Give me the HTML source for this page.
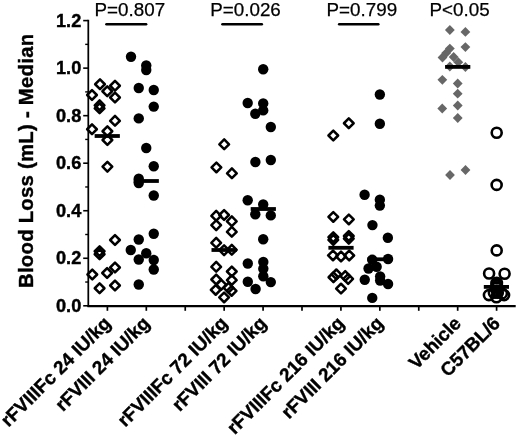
<!DOCTYPE html>
<html><head><meta charset="utf-8"><title>Blood Loss</title>
<style>html,body{margin:0;padding:0;background:#fff}svg{display:block;filter:grayscale(1)}text{font-family:"Liberation Sans",sans-serif;fill:#000}.b{font-weight:bold;stroke:#000;stroke-width:.4px}.r{stroke:#000;stroke-width:.25px}</style></head><body>
<svg width="520" height="436" viewBox="0 0 520 436">
<g opacity="0.999">
<rect width="520" height="436" fill="#fff"/>
<g stroke="#000" fill="none">
<path d="M88.3 19.8 V306.8" stroke-width="1.75"/>
<path d="M87.4 306.15 H515.7" stroke-width="2.1"/>
<path d="M83.2 305.80 H88" stroke-width="1.6"/>
<path d="M85.2 282.03 H88" stroke-width="1.4"/>
<path d="M83.2 258.27 H88" stroke-width="1.6"/>
<path d="M85.2 234.50 H88" stroke-width="1.4"/>
<path d="M83.2 210.73 H88" stroke-width="1.6"/>
<path d="M85.2 186.97 H88" stroke-width="1.4"/>
<path d="M83.2 163.20 H88" stroke-width="1.6"/>
<path d="M85.2 139.43 H88" stroke-width="1.4"/>
<path d="M83.2 115.67 H88" stroke-width="1.6"/>
<path d="M85.2 91.90 H88" stroke-width="1.4"/>
<path d="M83.2 68.13 H88" stroke-width="1.6"/>
<path d="M85.2 44.37 H88" stroke-width="1.4"/>
<path d="M83.2 20.60 H88" stroke-width="1.6"/>
<path d="M107.4 305.8 V310.8" stroke-width="1.7"/>
<path d="M146.32 305.8 V310.8" stroke-width="1.7"/>
<path d="M185.24 305.8 V310.8" stroke-width="1.7"/>
<path d="M224.16 305.8 V310.8" stroke-width="1.7"/>
<path d="M263.08 305.8 V310.8" stroke-width="1.7"/>
<path d="M302.0 305.8 V310.8" stroke-width="1.7"/>
<path d="M340.92 305.8 V310.8" stroke-width="1.7"/>
<path d="M379.84 305.8 V310.8" stroke-width="1.7"/>
<path d="M418.76 305.8 V310.8" stroke-width="1.7"/>
<path d="M457.68 305.8 V310.8" stroke-width="1.7"/>
<path d="M496.6 305.8 V310.8" stroke-width="1.7"/>
</g>
<g class="b" font-size="18.2" text-anchor="end">
<text x="81.3" y="311.70">0.0</text>
<text x="81.3" y="264.17">0.2</text>
<text x="81.3" y="216.63">0.4</text>
<text x="81.3" y="169.10">0.6</text>
<text x="81.3" y="121.57">0.8</text>
<text x="81.3" y="74.03">1.0</text>
<text x="81.3" y="26.50">1.2</text>
</g>
<text class="b" font-size="20.3" letter-spacing="0.27" transform="translate(33.4 288) rotate(-90)">Blood Loss (mL) - Median</text>
<g class="b" font-size="18.8" text-anchor="end">
<text transform="translate(111.9 324.5) rotate(-45)">rFVIIIFc 24 IU/kg</text>
<text transform="translate(150.8 324.5) rotate(-45)">rFVIII 24 IU/kg</text>
<text transform="translate(228.7 324.5) rotate(-45)">rFVIIIFc 72 IU/kg</text>
<text transform="translate(267.6 324.5) rotate(-45)">rFVIII 72 IU/kg</text>
<text transform="translate(345.4 324.5) rotate(-45)">rFVIIIFc 216 IU/kg</text>
<text transform="translate(384.3 324.5) rotate(-45)">rFVIII 216 IU/kg</text>
<text transform="translate(462.2 324.5) rotate(-45)">Vehicle</text>
<text transform="translate(501.1 324.5) rotate(-45)">C57BL/6</text>
</g>
<g class="r" font-size="18.8">
<text x="94.6" y="16.4">P=0.807</text>
<text x="210.3" y="16.4">P=0.026</text>
<text x="326.6" y="16.4">P=0.799</text>
<text x="429.6" y="16.4">P&lt;0.05</text>
</g>
<g stroke="#000" stroke-width="2.6" stroke-linecap="round">
<path d="M106.5 24.2 H146.1"/>
<path d="M222.5 24.2 H261.8"/>
<path d="M339.2 24.2 H378.3"/>
</g>
<g fill="none" stroke="#000" stroke-width="2.5" stroke-linejoin="round">
<path d="M100.00 79.40 L104.85 84.25 L100.00 89.10 L95.15 84.25 Z"/>
<path d="M115.00 80.90 L119.85 85.75 L115.00 90.60 L110.15 85.75 Z"/>
<path d="M92.00 90.15 L96.85 95.00 L92.00 99.85 L87.15 95.00 Z"/>
<path d="M107.25 86.40 L112.10 91.25 L107.25 96.10 L102.40 91.25 Z"/>
<path d="M115.00 92.65 L119.85 97.50 L115.00 102.35 L110.15 97.50 Z"/>
<path d="M99.60 100.45 L104.45 105.30 L99.60 110.15 L94.75 105.30 Z"/>
<path d="M99.60 103.45 L104.45 108.30 L99.60 113.15 L94.75 108.30 Z"/>
<path d="M115.00 115.95 L119.85 120.80 L115.00 125.65 L110.15 120.80 Z"/>
<path d="M92.00 124.40 L96.85 129.25 L92.00 134.10 L87.15 129.25 Z"/>
<path d="M107.40 126.40 L112.25 131.25 L107.40 136.10 L102.55 131.25 Z"/>
<path d="M107.40 135.15 L112.25 140.00 L107.40 144.85 L102.55 140.00 Z"/>
<path d="M107.40 161.85 L112.25 166.70 L107.40 171.55 L102.55 166.70 Z"/>
<path d="M115.00 235.15 L119.85 240.00 L115.00 244.85 L110.15 240.00 Z"/>
<path d="M99.60 246.40 L104.45 251.25 L99.60 256.10 L94.75 251.25 Z"/>
<path d="M99.60 249.40 L104.45 254.25 L99.60 259.10 L94.75 254.25 Z"/>
<path d="M115.00 262.65 L119.85 267.50 L115.00 272.35 L110.15 267.50 Z"/>
<path d="M107.10 268.15 L111.95 273.00 L107.10 277.85 L102.25 273.00 Z"/>
<path d="M92.30 269.65 L97.15 274.50 L92.30 279.35 L87.45 274.50 Z"/>
<path d="M115.00 280.65 L119.85 285.50 L115.00 290.35 L110.15 285.50 Z"/>
<path d="M99.60 283.40 L104.45 288.25 L99.60 293.10 L94.75 288.25 Z"/>
</g>
<g fill="none" stroke="#000" stroke-width="2.5" stroke-linejoin="round">
<path d="M224.20 139.45 L229.05 144.30 L224.20 149.15 L219.35 144.30 Z"/>
<path d="M216.40 162.55 L221.25 167.40 L216.40 172.25 L211.55 167.40 Z"/>
<path d="M231.90 168.45 L236.75 173.30 L231.90 178.15 L227.05 173.30 Z"/>
<path d="M216.20 210.95 L221.05 215.80 L216.20 220.65 L211.35 215.80 Z"/>
<path d="M224.10 210.15 L228.95 215.00 L224.10 219.85 L219.25 215.00 Z"/>
<path d="M231.80 216.45 L236.65 221.30 L231.80 226.15 L226.95 221.30 Z"/>
<path d="M216.20 220.35 L221.05 225.20 L216.20 230.05 L211.35 225.20 Z"/>
<path d="M231.80 226.95 L236.65 231.80 L231.80 236.65 L226.95 231.80 Z"/>
<path d="M216.20 237.95 L221.05 242.80 L216.20 247.65 L211.35 242.80 Z"/>
<path d="M224.10 245.35 L228.95 250.20 L224.10 255.05 L219.25 250.20 Z"/>
<path d="M231.80 244.95 L236.65 249.80 L231.80 254.65 L226.95 249.80 Z"/>
<path d="M216.20 261.95 L221.05 266.80 L216.20 271.65 L211.35 266.80 Z"/>
<path d="M231.80 266.65 L236.65 271.50 L231.80 276.35 L226.95 271.50 Z"/>
<path d="M216.20 274.65 L221.05 279.50 L216.20 284.35 L211.35 279.50 Z"/>
<path d="M231.80 275.25 L236.65 280.10 L231.80 284.95 L226.95 280.10 Z"/>
<path d="M221.30 279.85 L226.15 284.70 L221.30 289.55 L216.45 284.70 Z"/>
<path d="M215.70 285.05 L220.55 289.90 L215.70 294.75 L210.85 289.90 Z"/>
<path d="M228.50 282.95 L233.35 287.80 L228.50 292.65 L223.65 287.80 Z"/>
<path d="M231.60 286.05 L236.45 290.90 L231.60 295.75 L226.75 290.90 Z"/>
<path d="M224.10 292.55 L228.95 297.40 L224.10 302.25 L219.25 297.40 Z"/>
</g>
<g fill="none" stroke="#000" stroke-width="2.5" stroke-linejoin="round">
<path d="M348.80 118.40 L353.65 123.25 L348.80 128.10 L343.95 123.25 Z"/>
<path d="M333.30 130.65 L338.15 135.50 L333.30 140.35 L328.45 135.50 Z"/>
<path d="M333.30 212.05 L338.15 216.90 L333.30 221.75 L328.45 216.90 Z"/>
<path d="M348.85 214.55 L353.70 219.40 L348.85 224.25 L344.00 219.40 Z"/>
<path d="M333.30 232.35 L338.15 237.20 L333.30 242.05 L328.45 237.20 Z"/>
<path d="M333.30 235.05 L338.15 239.90 L333.30 244.75 L328.45 239.90 Z"/>
<path d="M348.80 231.15 L353.65 236.00 L348.80 240.85 L343.95 236.00 Z"/>
<path d="M348.80 233.85 L353.65 238.70 L348.80 243.55 L343.95 238.70 Z"/>
<path d="M333.00 250.55 L337.85 255.40 L333.00 260.25 L328.15 255.40 Z"/>
<path d="M341.00 251.65 L345.85 256.50 L341.00 261.35 L336.15 256.50 Z"/>
<path d="M349.20 250.65 L354.05 255.50 L349.20 260.35 L344.35 255.50 Z"/>
<path d="M333.45 272.40 L338.30 277.25 L333.45 282.10 L328.60 277.25 Z"/>
<path d="M336.35 269.50 L341.20 274.35 L336.35 279.20 L331.50 274.35 Z"/>
<path d="M345.25 271.20 L350.10 276.05 L345.25 280.90 L340.40 276.05 Z"/>
<path d="M348.15 274.10 L353.00 278.95 L348.15 283.80 L343.30 278.95 Z"/>
<path d="M341.00 283.75 L345.85 288.60 L341.00 293.45 L336.15 288.60 Z"/>
</g>
<g fill="#676767">
<path d="M449.85 25.10 L454.75 30.00 L449.85 34.90 L444.95 30.00 Z"/>
<path d="M465.40 27.00 L470.30 31.90 L465.40 36.80 L460.50 31.90 Z"/>
<path d="M465.40 42.20 L470.30 47.10 L465.40 52.00 L460.50 47.10 Z"/>
<path d="M449.85 43.70 L454.75 48.60 L449.85 53.50 L444.95 48.60 Z"/>
<path d="M446.15 48.20 L451.05 53.10 L446.15 58.00 L441.25 53.10 Z"/>
<path d="M442.50 52.60 L447.40 57.50 L442.50 62.40 L437.60 57.50 Z"/>
<path d="M453.65 52.10 L458.55 57.00 L453.65 61.90 L448.75 57.00 Z"/>
<path d="M458.30 57.30 L463.20 62.20 L458.30 67.10 L453.40 62.20 Z"/>
<path d="M449.85 61.60 L454.75 66.50 L449.85 71.40 L444.95 66.50 Z"/>
<path d="M465.40 62.10 L470.30 67.00 L465.40 71.90 L460.50 67.00 Z"/>
<path d="M442.35 74.90 L447.25 79.80 L442.35 84.70 L437.45 79.80 Z"/>
<path d="M457.70 78.60 L462.60 83.50 L457.70 88.40 L452.80 83.50 Z"/>
<path d="M457.70 88.80 L462.60 93.70 L457.70 98.60 L452.80 93.70 Z"/>
<path d="M457.75 100.60 L462.65 105.50 L457.75 110.40 L452.85 105.50 Z"/>
<path d="M442.25 103.60 L447.15 108.50 L442.25 113.40 L437.35 108.50 Z"/>
<path d="M457.75 113.10 L462.65 118.00 L457.75 122.90 L452.85 118.00 Z"/>
<path d="M465.50 165.10 L470.40 170.00 L465.50 174.90 L460.60 170.00 Z"/>
<path d="M450.00 170.10 L454.90 175.00 L450.00 179.90 L445.10 175.00 Z"/>
</g>
<g fill="none" stroke="#000" stroke-width="2.6">
<circle cx="496.7" cy="132.8" r="5.0"/>
<circle cx="496.65" cy="184.9" r="5.0"/>
<circle cx="496.7" cy="250.4" r="5.0"/>
<circle cx="489.1" cy="273.5" r="5.0"/>
<circle cx="504.6" cy="273.7" r="5.0"/>
<circle cx="496.7" cy="283.1" r="5.0" stroke-width="3.1"/>
<circle cx="496.7" cy="285.3" r="5.0" stroke-width="3.1"/>
<circle cx="496.7" cy="287.5" r="5.0" stroke-width="3.1"/>
<circle cx="496.8" cy="290.6" r="5.0"/>
<circle cx="488.9" cy="295.1" r="5.0"/>
<circle cx="504.1" cy="295.1" r="5.0"/>
<circle cx="496.4" cy="297.3" r="5.0"/>
<circle cx="493.9" cy="292.8" r="5.0"/>
<circle cx="497.8" cy="292.8" r="5.0"/>
<circle cx="501.9" cy="293.4" r="5.0"/>
</g>
<g fill="#000">
<rect x="94.65" y="134.10" width="25.2" height="3.8"/>
<rect x="133.65" y="179.10" width="25.2" height="3.8"/>
<rect x="211.50" y="248.10" width="25.2" height="3.8"/>
<rect x="250.70" y="207.10" width="25.2" height="3.8"/>
<rect x="328.40" y="245.90" width="25.2" height="3.8"/>
<rect x="367.30" y="257.40" width="25.2" height="3.8"/>
<rect x="445.10" y="65.00" width="25.2" height="3.8"/>
<rect x="483.80" y="285.00" width="25.2" height="3.8"/>
</g>
<g fill="#000">
<circle cx="131" cy="56.75" r="5.2"/>
<circle cx="146.25" cy="65.5" r="5.2"/>
<circle cx="146.25" cy="70" r="5.2"/>
<circle cx="138.75" cy="88" r="5.2"/>
<circle cx="153.75" cy="90" r="5.2"/>
<circle cx="153.75" cy="106.6" r="5.2"/>
<circle cx="138.75" cy="118.4" r="5.2"/>
<circle cx="146.25" cy="148" r="5.2"/>
<circle cx="153.75" cy="166.25" r="5.2"/>
<circle cx="138.75" cy="178.75" r="5.2"/>
<circle cx="138.75" cy="183" r="5.2"/>
<circle cx="153.75" cy="195.5" r="5.2"/>
<circle cx="153.75" cy="233.75" r="5.2"/>
<circle cx="138.75" cy="239.5" r="5.2"/>
<circle cx="130.75" cy="250" r="5.2"/>
<circle cx="146.25" cy="253.25" r="5.2"/>
<circle cx="138.75" cy="259.5" r="5.2"/>
<circle cx="153.75" cy="260" r="5.2"/>
<circle cx="153.75" cy="269.5" r="5.2"/>
<circle cx="138.75" cy="284.5" r="5.2"/>
<circle cx="263.2" cy="69.3" r="5.2"/>
<circle cx="247.7" cy="103" r="5.2"/>
<circle cx="263.2" cy="103.4" r="5.2"/>
<circle cx="263.2" cy="110.4" r="5.2"/>
<circle cx="255.3" cy="113.8" r="5.2"/>
<circle cx="270.8" cy="127" r="5.2"/>
<circle cx="270.8" cy="160" r="5.2"/>
<circle cx="255.4" cy="162" r="5.2"/>
<circle cx="247.7" cy="200.3" r="5.2"/>
<circle cx="263.2" cy="204.5" r="5.2"/>
<circle cx="255.3" cy="214.2" r="5.2"/>
<circle cx="270.8" cy="215.4" r="5.2"/>
<circle cx="263.2" cy="239.2" r="5.2"/>
<circle cx="247.8" cy="263.5" r="5.2"/>
<circle cx="263.3" cy="261.9" r="5.2"/>
<circle cx="263.3" cy="268.7" r="5.2"/>
<circle cx="263.3" cy="276.3" r="5.2"/>
<circle cx="247.8" cy="281.7" r="5.2"/>
<circle cx="270.8" cy="282.1" r="5.2"/>
<circle cx="255.6" cy="289.0" r="5.2"/>
<circle cx="379.85" cy="94.5" r="5.2"/>
<circle cx="379.85" cy="123.75" r="5.2"/>
<circle cx="364.6" cy="194.8" r="5.2"/>
<circle cx="379.85" cy="199.8" r="5.2"/>
<circle cx="379.85" cy="205.6" r="5.2"/>
<circle cx="372.45" cy="225.1" r="5.2"/>
<circle cx="387.85" cy="237.8" r="5.2"/>
<circle cx="372.25" cy="259.8" r="5.2"/>
<circle cx="388.05" cy="259" r="5.2"/>
<circle cx="376.65" cy="266.7" r="5.2"/>
<circle cx="368.55" cy="268.5" r="5.2"/>
<circle cx="364.75" cy="279.8" r="5.2"/>
<circle cx="380.15" cy="276.5" r="5.2"/>
<circle cx="380.15" cy="280.6" r="5.2"/>
<circle cx="388.05" cy="284" r="5.2"/>
<circle cx="372.25" cy="297.9" r="5.2"/>
</g>
</g></svg></body></html>
